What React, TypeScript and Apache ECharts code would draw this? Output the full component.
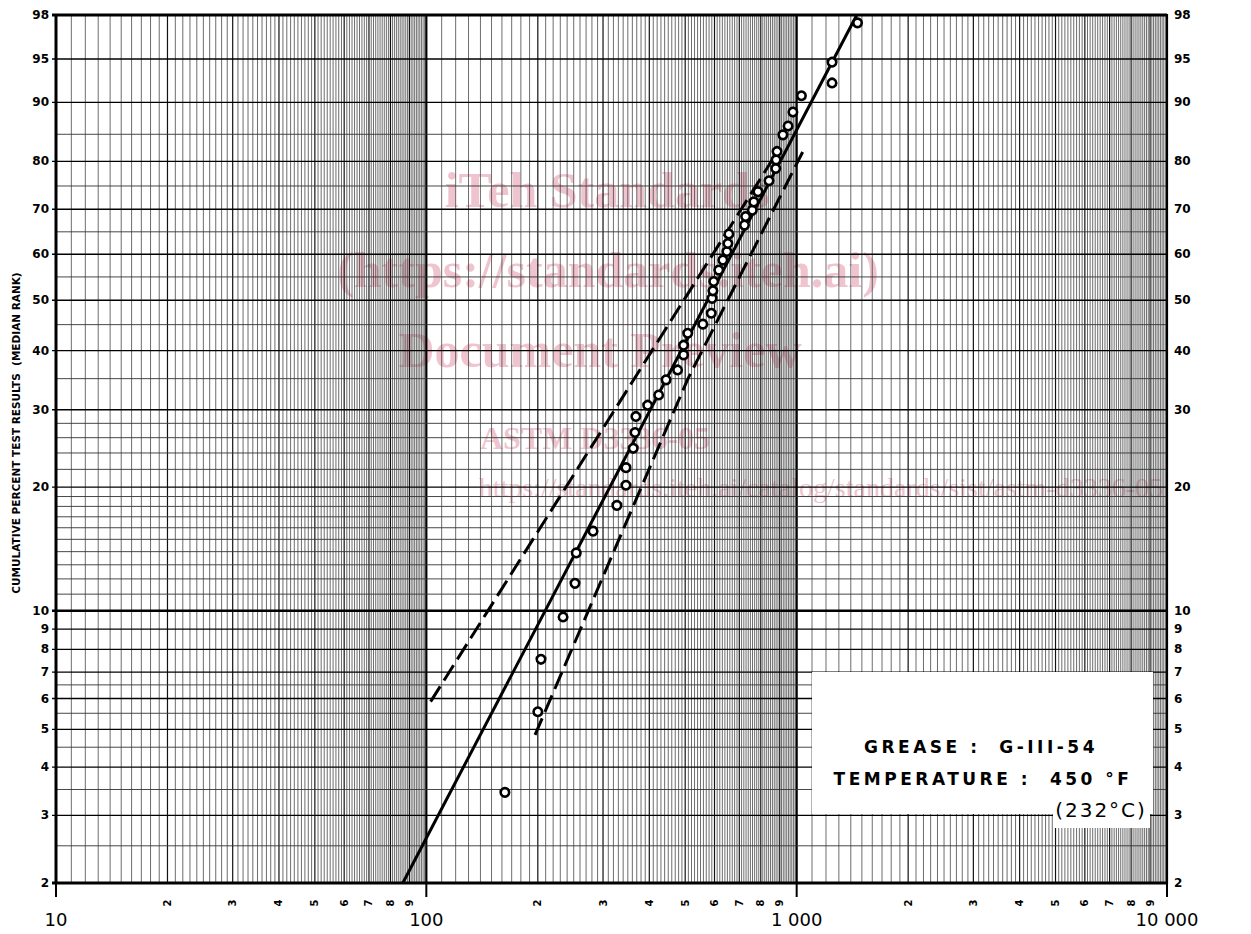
import React, { useEffect, useRef } from "react";
import * as echarts from "echarts";

// Weibull probability transform for percent values
const W = (pct: number) => Math.log(-Math.log(1 - pct / 100));

// ---- axis / paper data ----
const yLabelValues = [2, 3, 4, 5, 6, 7, 8, 9, 10, 20, 30, 40, 50, 60, 70, 80, 90, 95, 98];
const yMinorValues = [2.5, 3.5, 4.5, 5.5, 6.5, 11, 12, 13, 14, 15, 16, 17, 18, 19, 22, 24, 26, 28, 35, 45, 55, 65, 75, 85];
const xDecades = [10, 100, 1000, 10000];
const xDecadeLabels = ["10", "100", "1 000", "10 000"];
const xMinorDigits = [2, 3, 4, 5, 6, 7, 8, 9];
const xGridSteps = [11, 12, 13, 14, 15, 16, 17, 18, 19, 20, 21, 22, 23, 24, 25, 26, 27, 28, 29, 30, 31, 32, 33, 34, 35, 36, 37, 38, 39, 40, 41, 42, 43, 44, 45, 46, 47, 48, 49, 50, 51, 52, 53, 54, 55, 56, 57, 58, 59, 60, 61, 62, 63, 64, 65, 66, 67, 68, 69, 70, 71, 72, 73, 74, 75, 76, 77, 78, 79, 80, 81, 82, 83, 84, 85, 86, 87, 88, 89, 90, 91, 92, 93, 94, 95, 96, 97, 98, 99];

// ---- test results ----
const testHours = [163, 200, 204, 234, 252, 254, 282, 327, 346, 346, 362, 366, 368, 396, 424, 444, 477, 495, 495, 508, 558, 588, 591, 594, 597, 616, 632, 648, 652, 656, 723, 728, 759, 766, 786, 842, 878, 880, 885, 918, 948, 977, 1030, 1246, 1246, 1460];
const medianRank = [3.44, 5.55, 7.55, 9.65, 11.7, 13.9, 15.7, 18.1, 20.2, 22.2, 24.6, 26.7, 29.0, 30.7, 32.3, 34.8, 36.5, 39.2, 41.0, 43.3, 45.1, 47.3, 50.4, 52.0, 54.0, 56.5, 58.7, 60.6, 62.4, 64.5, 66.5, 68.4, 69.8, 71.6, 73.8, 76.1, 78.6, 80.3, 81.9, 84.9, 86.4, 88.6, 90.9, 92.5, 94.7, 97.6];

// fitted line and confidence bands
const fitHours = [86.4, 1453];
const fitRank = [2, 98];
const upperBandHours = [102.7, 899.6];
const upperBandRank = [5.89, 82.5];
const lowerBandHours = [196.6, 507, 1038];
const lowerBandRank = [4.84, 34.8, 81.8];

const yTitle = "CUMULATIVE PERCENT TEST RESULTS  (MEDIAN RANK)";
const legendLine1 = "GREASE :  G-III-54";
const legendLine2 = "TEMPERATURE :  450 °F";
const legendLine3 = "(232°C)";

const watermark = [
  { text: "iTeh Standards", x: 607, y: 190, size: 50 },
  { text: "(https://standards.iteh.ai)", x: 608, y: 270, size: 50 },
  { text: "Document Preview", x: 600, y: 350, size: 50 },
  { text: "ASTM D3336-05", x: 595, y: 438, size: 32 },
];
const watermarkUrl = "https://standards.iteh.ai/catalog/standards/sist/astm-d3336-05";

const FONT = "DejaVu Sans";

const renderPaper = (_params: any, api: any) => {
  const c = (x: number, pct: number) => api.coord([x, W(pct)]);
  const [L, B] = c(10, 2);
  const [R, T] = c(10000, 98);
  const ch: any[] = [];

  // faint watermark (under the grid)
  watermark.forEach((w) => {
    ch.push({
      type: "text",
      x: w.x,
      y: w.y,
      style: { text: w.text, fill: "#f0c4ce", fontSize: w.size, fontFamily: "Liberation Serif", fontWeight: "bold", align: "center", verticalAlign: "middle" },
    });
  });
  ch.push({
    type: "text",
    x: 1163,
    y: 487,
    style: { text: watermarkUrl, fill: "#f0c4ce", fontSize: 28, fontFamily: "Liberation Serif", align: "right", verticalAlign: "middle" },
  });

  // vertical grid lines
  for (let i = 0; i < 3; i++) {
    const d = xDecades[i];
    xGridSteps.forEach((k) => {
      const x = c((d * k) / 10, 50)[0];
      const major = k % 10 === 0;
      ch.push({
        type: "line",
        shape: { x1: x, y1: T, x2: x, y2: B },
        style: { stroke: major ? "#111" : "#3c3c3c", lineWidth: major ? 1.2 : 0.75 },
      });
    });
  }
  [100, 1000].forEach((d) => {
    const x = c(d, 50)[0];
    ch.push({ type: "line", shape: { x1: x, y1: T, x2: x, y2: B }, style: { stroke: "#000", lineWidth: 2.2 } });
  });

  // horizontal grid lines
  yMinorValues.forEach((p) => {
    const y = c(10, p)[1];
    ch.push({ type: "line", shape: { x1: L, y1: y, x2: R, y2: y }, style: { stroke: "#333", lineWidth: 0.9 } });
  });
  yLabelValues.forEach((p) => {
    const y = c(10, p)[1];
    ch.push({
      type: "line",
      shape: { x1: L - 4, y1: y, x2: R, y2: y },
      style: { stroke: "#000", lineWidth: p === 10 ? 2.4 : p === 2 || p === 98 ? 3 : 1.3 },
    });
  });

  // borders
  ch.push({ type: "line", shape: { x1: L, y1: T - 1, x2: L, y2: B + 1 }, style: { stroke: "#000", lineWidth: 3 } });
  ch.push({ type: "line", shape: { x1: R, y1: T - 1, x2: R, y2: B + 1 }, style: { stroke: "#000", lineWidth: 2.2 } });

  // decade ticks and labels
  xDecades.forEach((d, i) => {
    const x = c(d, 50)[0];
    ch.push({ type: "line", shape: { x1: x, y1: B, x2: x, y2: B + 14 }, style: { stroke: "#000", lineWidth: 2 } });
    ch.push({
      type: "text",
      x,
      y: B + 36,
      style: { text: xDecadeLabels[i], fill: "#000", fontSize: 18, fontFamily: FONT, align: "center", verticalAlign: "middle" },
    });
  });
  for (let i = 0; i < 3; i++) {
    xMinorDigits.forEach((m) => {
      const x = c(xDecades[i] * m, 50)[0];
      ch.push({
        type: "text",
        x,
        y: B + 20,
        rotation: Math.PI / 2,
        style: { text: String(m), fill: "#000", fontSize: 10, fontWeight: "bold", fontFamily: FONT, align: "center", verticalAlign: "middle" },
      });
    });
  }

  // percent labels on both sides
  yLabelValues.forEach((p) => {
    const y = c(10, p)[1];
    ch.push({
      type: "text",
      x: L - 7,
      y,
      style: { text: String(p), fill: "#000", fontSize: 12, fontWeight: "bold", fontFamily: FONT, align: "right", verticalAlign: "middle" },
    });
    ch.push({
      type: "text",
      x: R + 7,
      y,
      style: { text: String(p), fill: "#000", fontSize: 12, fontWeight: "bold", fontFamily: FONT, align: "left", verticalAlign: "middle" },
    });
  });

  // y-axis title
  ch.push({
    type: "text",
    x: 16,
    y: 433,
    rotation: Math.PI / 2,
    style: { text: yTitle, fill: "#000", fontSize: 10.5, fontWeight: "bold", fontFamily: FONT, align: "center", verticalAlign: "middle" },
  });

  return { type: "group", children: ch };
};

const option: any = {
  animation: false,
  backgroundColor: "#fff",
  grid: { left: 56, right: 84, top: 15, bottom: 51, containLabel: false },
  xAxis: { type: "log", logBase: 10, min: 10, max: 10000, show: false },
  yAxis: { type: "value", min: W(2), max: W(98), show: false },
  series: [
    {
      type: "custom",
      silent: true,
      clip: false,
      z: 1,
      renderItem: renderPaper,
      data: [[100, 0]],
    },
    {
      type: "line",
      silent: true,
      z: 3,
      symbol: "none",
      data: fitHours.map((h, i) => [h, W(fitRank[i])]),
      lineStyle: { color: "#000", width: 3 },
    },
    {
      type: "line",
      silent: true,
      z: 3,
      symbol: "none",
      data: upperBandHours.map((h, i) => [h, W(upperBandRank[i])]),
      lineStyle: { color: "#000", width: 3, type: [18, 7] },
    },
    {
      type: "line",
      silent: true,
      z: 3,
      symbol: "none",
      data: lowerBandHours.map((h, i) => [h, W(lowerBandRank[i])]),
      lineStyle: { color: "#000", width: 3, type: [18, 7] },
    },
    {
      type: "scatter",
      silent: true,
      z: 4,
      symbol: "circle",
      symbolSize: 8.5,
      data: testHours.map((h, i) => [h, W(medianRank[i])]),
      itemStyle: { color: "#fff", borderColor: "#000", borderWidth: 2.6, opacity: 1 },
    },
  ],
  graphic: {
    elements: [
      { type: "rect", silent: true, z: 100, shape: { x: 812, y: 672, width: 341, height: 142 }, style: { fill: "#fff" } },
      { type: "rect", silent: true, z: 100, shape: { x: 1053, y: 796, width: 97, height: 32 }, style: { fill: "#fff" } },
      {
        type: "text",
        silent: true,
        z: 101,
        x: 981,
        y: 747,
        style: { text: legendLine1, fill: "#000", fontSize: 17, fontWeight: "bold", fontFamily: FONT, align: "center", verticalAlign: "middle" },
      },
      {
        type: "text",
        silent: true,
        z: 101,
        x: 983,
        y: 779,
        style: { text: legendLine2, fill: "#000", fontSize: 17, fontWeight: "bold", fontFamily: FONT, align: "center", verticalAlign: "middle" },
      },
      {
        type: "text",
        silent: true,
        z: 101,
        x: 1101,
        y: 810,
        style: { text: legendLine3, fill: "#000", fontSize: 20, fontFamily: FONT, align: "center", verticalAlign: "middle" },
      },
    ],
  },
};

const letterSpacing: Record<string, number> = {
  [legendLine1]: 3.5,
  [legendLine2]: 3.5,
  [legendLine3]: 2,
};

export default function App() {
  const ref = useRef<HTMLDivElement>(null);
  useEffect(() => {
    if (!ref.current) return;
    const chart = echarts.init(ref.current, null, { renderer: "svg" });
    chart.setOption(option);
    ref.current.querySelectorAll("text").forEach((t) => {
      const s = letterSpacing[t.textContent || ""];
      if (s) t.setAttribute("letter-spacing", String(s));
    });
    return () => chart.dispose();
  }, []);
  return (
    <div
      ref={ref}
      style={{ position: "fixed", left: 0, top: 0, width: 1251, height: 934, background: "#fff" }}
    />
  );
}
